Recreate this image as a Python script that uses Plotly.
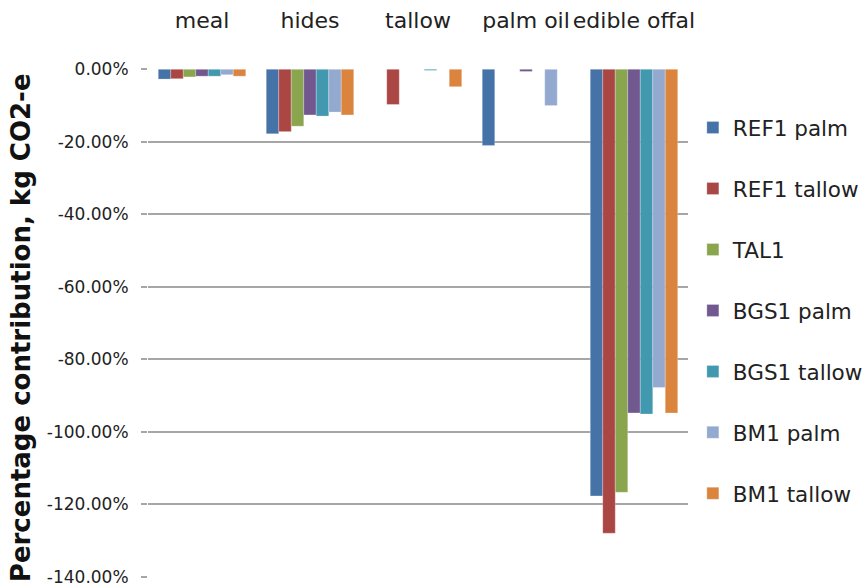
import plotly.graph_objects as go

categories = ["meal", "hides", "tallow", "palm oil", "edible offal"]

series_names = ["REF1 palm", "REF1 tallow", "TAL1", "BGS1 palm",
                "BGS1 tallow", "BM1 palm", "BM1 tallow"]

ref1_palm = [-0.027, -0.178, 0.0, -0.210, -1.177]
ref1_tallow = [-0.026, -0.172, -0.097, 0.0, -1.280]
tal1 = [-0.021, -0.157, 0.0, 0.0, -1.167]
bgs1_palm = [-0.019, -0.126, 0.0, -0.006, -0.948]
bgs1_tallow = [-0.019, -0.129, -0.003, 0.0, -0.951]
bm1_palm = [-0.015, -0.118, 0.0, -0.100, -0.878]
bm1_tallow = [-0.019, -0.126, -0.048, 0.0, -0.948]

tick_vals = [0.0, -0.2, -0.4, -0.6, -0.8, -1.0, -1.2, -1.4]
tick_labels = ["0.00%", "-20.00%", "-40.00%", "-60.00%", "-80.00%",
               "-100.00%", "-120.00%", "-140.00%"]

y_title = "Percentage contribution, kg CO2-e"

colors = ["#4572A7", "#AA4643", "#89A54E", "#71588F", "#4198AF", "#93A9CF", "#DB843D"]

all_series = [ref1_palm, ref1_tallow, tal1, bgs1_palm, bgs1_tallow, bm1_palm, bm1_tallow]

fig = go.Figure()
for name, vals, col in zip(series_names, all_series, colors):
    fig.add_trace(go.Bar(
        x=categories, y=vals, name=name, legendgroup=name,
        marker=dict(color=col, line=dict(color="rgba(255,255,255,0.5)", width=0.5)),
    ))

font_family = "DejaVu Sans"
fig.update_layout(
    width=863, height=587,
    margin=dict(l=148, r=175, t=69, b=10, autoexpand=False),
    paper_bgcolor="white", plot_bgcolor="white",
    barmode="group", bargap=0.19, bargroupgap=0,
    font=dict(family=font_family, size=17, color="#222222"),
    showlegend=True,
    legend=dict(x=1.009, xanchor="left", y=0.925, yanchor="top",
                font=dict(family=font_family, size=21.5, color="#222222"),
                tracegroupgap=30, bgcolor="rgba(0,0,0,0)"),
    xaxis=dict(side="top", showgrid=False, showline=False, ticks="",
               tickangle=0, automargin=False,
               tickfont=dict(family=font_family, size=22, color="#222222"),
               ticklabelstandoff=36),
    yaxis=dict(range=[-1.4008, 0.0008], tickvals=tick_vals, ticktext=tick_labels,
               showgrid=True, gridcolor="#A6A6A6", gridwidth=1.5,
               zeroline=False, showline=False, automargin=False,
               ticks="outside", ticklen=6, tickcolor="#A6A6A6", tickwidth=1.5,
               ticklabelstandoff=9,
               tickfont=dict(family=font_family, size=17, color="#222222")),
    annotations=[dict(text="<b>" + y_title + "</b>", textangle=-90,
                      xref="paper", yref="paper", x=-0.235, y=0.49,
                      xanchor="center", yanchor="middle", showarrow=False,
                      font=dict(family=font_family, size=26, color="#111111"))],
)

fig.write_html("out.html")
